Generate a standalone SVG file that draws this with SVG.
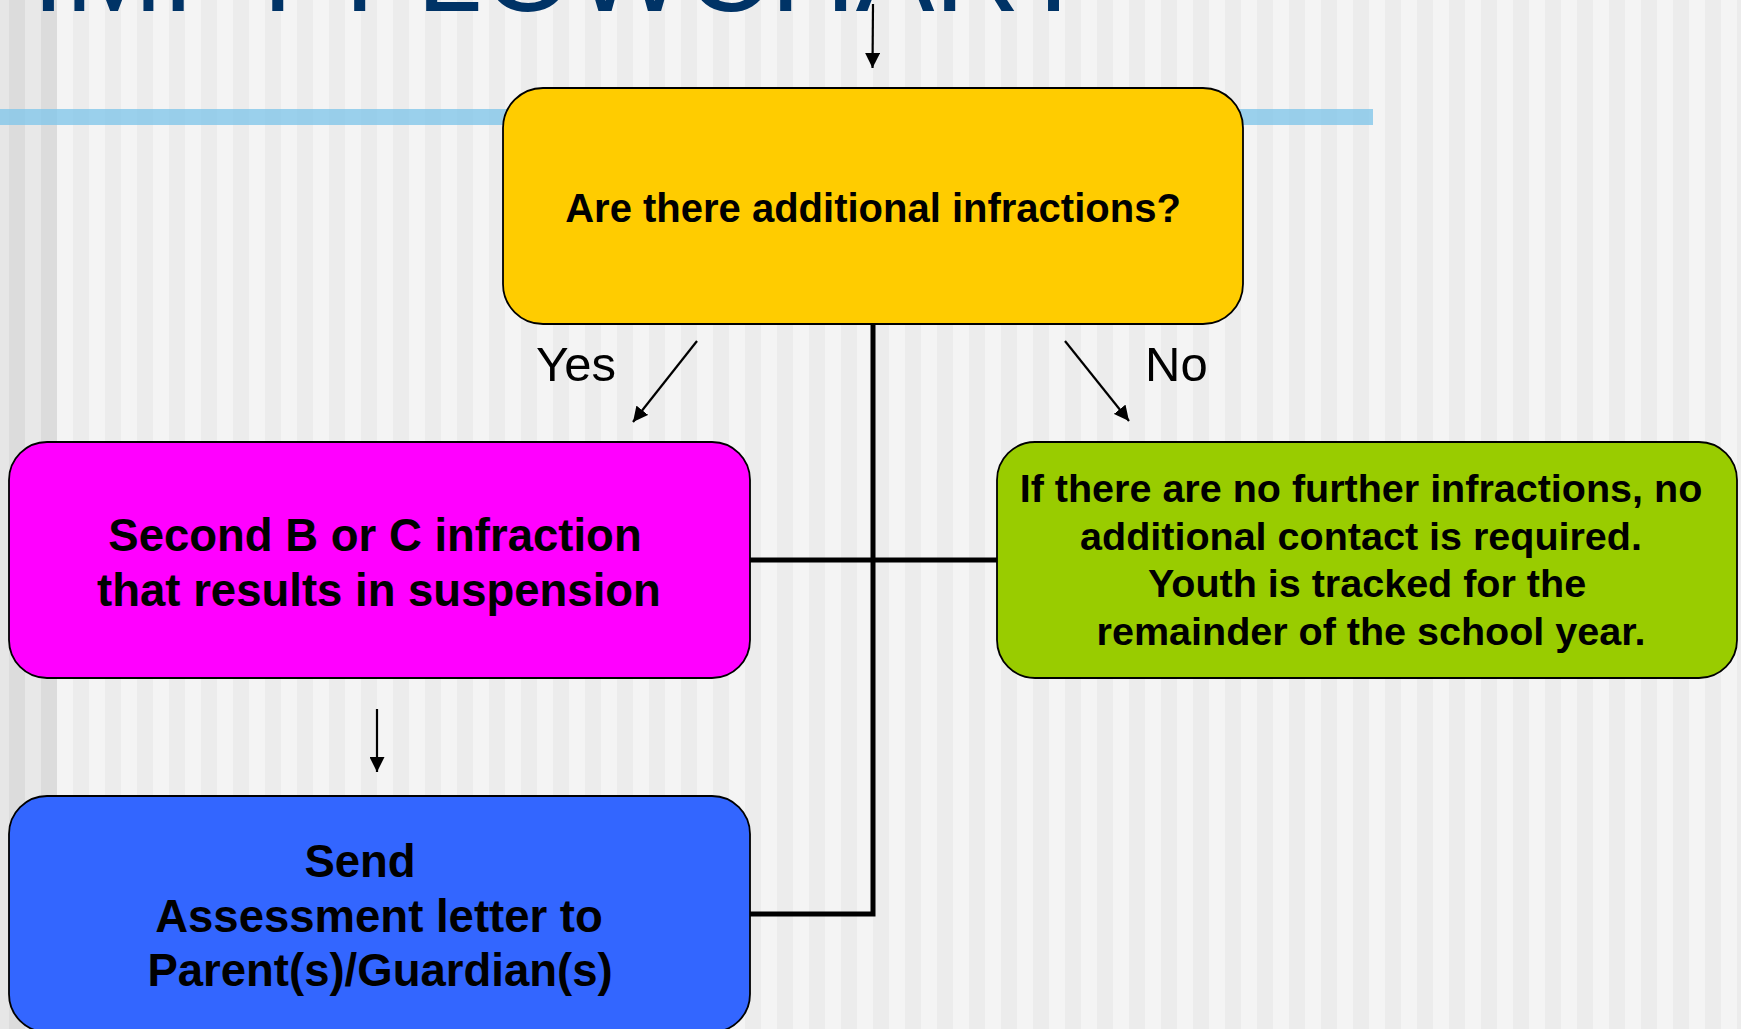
<svg xmlns="http://www.w3.org/2000/svg" width="1741" height="1029" viewBox="0 0 1741 1029">
<defs>
<pattern id="stripes" x="9" y="0" width="32" height="1029" patternUnits="userSpaceOnUse">
<rect x="0" y="0" width="16" height="1029" fill="#ececec"/>
<rect x="16" y="0" width="16" height="1029" fill="#f4f4f4"/>
</pattern>
<marker id="ah" viewBox="0 0 15 15" refX="15" refY="7.5" markerWidth="15" markerHeight="15" markerUnits="userSpaceOnUse" orient="auto">
<path d="M0,0 L15,7.5 L0,15 z" fill="#000"/>
</marker>
<style>
.box{stroke:#000;stroke-width:1.8}
.lbl{font-family:"Liberation Sans",Arial,sans-serif;font-weight:bold;fill:#000;text-anchor:middle}
.edge{font-family:"Liberation Sans",Arial,sans-serif;fill:#000;font-size:49px}
.arrow{stroke:#000;stroke-width:2.2;fill:none;marker-end:url(#ah)}
.conn{stroke:#000;stroke-width:5;fill:none;stroke-linejoin:miter}
</style>
</defs>
<g id="background">
<rect x="0" y="0" width="1741" height="1029" fill="url(#stripes)"/>
<rect x="0" y="0" width="9" height="1029" fill="#e6e6e6"/>
<rect x="9" y="0" width="16" height="1029" fill="#dcdcdc"/>
<rect x="25" y="0" width="16" height="1029" fill="#e8e8e8"/>
<rect x="41" y="0" width="16" height="1029" fill="#dcdcdc"/>
<text x="32" y="11" font-family="'Liberation Sans',Arial,sans-serif" font-size="118" fill="#003366">IMPT FLOWCHART</text>
<rect x="0" y="109" width="1373" height="16" fill="#83c7ea" opacity="0.8"/>
</g>
<g id="connectors">
<line class="arrow" x1="873" y1="4" x2="872.5" y2="68"/>
<line class="arrow" x1="697" y1="341" x2="633" y2="422"/>
<line class="arrow" x1="1065" y1="341" x2="1129" y2="421"/>
<line class="arrow" x1="377" y1="709" x2="377" y2="772"/>
<polyline class="conn" points="873,324 873,914 750,914"/>
<line class="conn" x1="750" y1="560" x2="997" y2="560"/>
<text class="edge" x="536" y="381">Yes</text>
<text class="edge" x="1145" y="381">No</text>
</g>
<g id="node-question">
<rect class="box" x="503" y="88" width="740" height="236" rx="40" ry="40" fill="#ffcc00"/>
<text class="lbl" x="873" y="222" font-size="40">Are there additional infractions?</text>
</g>
<g id="node-second">
<rect class="box" x="9" y="442" width="741" height="236" rx="38" ry="38" fill="#ff00ff"/>
<text class="lbl" font-size="45.5"><tspan x="375" y="551">Second B or C infraction</tspan><tspan x="379" y="606">that results in suspension</tspan></text>
</g>
<g id="node-no-further">
<rect class="box" x="997" y="442" width="740" height="236" rx="38" ry="38" fill="#99cc00"/>
<text class="lbl" font-size="39.5"><tspan x="1361" y="502">If there are no further infractions, no</tspan><tspan x="1361" y="550">additional contact is required.</tspan><tspan x="1367" y="597">Youth is tracked for the</tspan><tspan x="1371" y="645">remainder of the school year.</tspan></text>
</g>
<g id="node-send">
<rect class="box" x="9" y="796" width="741" height="236" rx="38" ry="38" fill="#3366ff"/>
<text class="lbl" font-size="45.5"><tspan x="360" y="877">Send</tspan><tspan x="379" y="932">Assessment letter to</tspan><tspan x="380" y="986">Parent(s)/Guardian(s)</tspan></text>
</g>
</svg>
